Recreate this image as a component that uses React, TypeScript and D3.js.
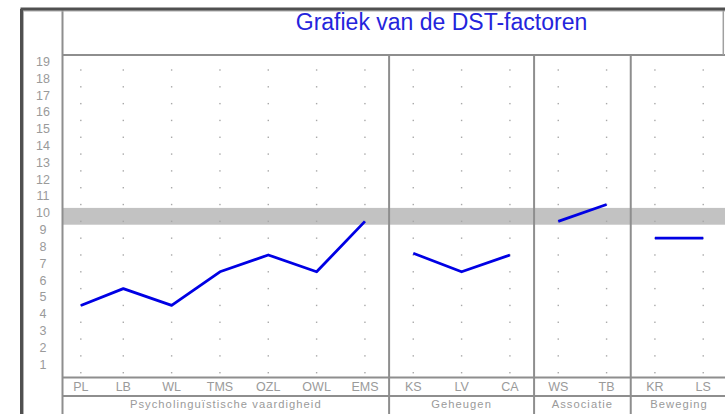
import * as d3 from 'd3'

// DST factor profile
const categories = ['PL', 'LB', 'WL', 'TMS', 'OZL', 'OWL', 'EMS', 'KS', 'LV', 'CA', 'WS', 'TB', 'KR', 'LS']
const groups = ['Psycholinguïstische vaardigheid', 'Geheugen', 'Associatie', 'Beweging']
const groupSizes = [7, 3, 2, 2]
const scores = [5, 6, 5, 7, 8, 7, 10, 8.1, 7, 8, 10, 11, 9, 9]
const yTicks = d3.range(1, 20)
const normBand = [9.8, 10.8]

const W = 725
const H = 414
const frameX = 21.5
const frameY = 9
const axisX = 62.5
const titleBottom = 55
const plotBottom = 377.5
const labelBottom = 396
const gridColor = '#8e8e8e'
const textColor = '#9a9a9a'
const font = '"Liberation Sans", Arial, sans-serif'

const x = d3.scaleBand<string>().domain(categories).range([50.8, 727.4])
const y = d3.scaleLinear().domain([1, 19]).range([372.7, 70])

// band clipped to the visible plot, then centred
const cx = (c: string) => {
  const a = Math.max(x(c)!, axisX)
  const b = Math.min(x(c)! + x.bandwidth(), W + 2.4)
  return (a + b) / 2
}

const groupRanges = groupSizes.map((n, i) => {
  const start = d3.sum(groupSizes.slice(0, i))
  return { name: groups[i], items: categories.slice(start, start + n), start }
})

const line = d3.line<number>()
  .x((_, i) => 0)
  .y(d => y(d))

const App = () => {
  const dividers = groupRanges.slice(1).map(g => x(g.items[0])!)

  return (
    <svg width={W} height={H} style={{ position: 'absolute', left: 0, top: 0, background: '#fff' }}>
      {/* norm band */}
      <rect x={axisX} width={W - axisX} y={y(normBand[1])} height={y(normBand[0]) - y(normBand[1])} fill="#c2c2c2" />

      {/* dot grid */}
      {categories.map(c => yTicks.map(t => (
        <rect key={c + t} x={cx(c) - 0.7} y={y(t) - 0.7} width={1.4} height={1.4} fill="#a8a8a8" />
      )))}

      {/* frame lines */}
      <line x1={axisX} x2={W} y1={titleBottom} y2={titleBottom} stroke={gridColor} strokeWidth={2} />
      <line x1={axisX} x2={W} y1={plotBottom} y2={plotBottom} stroke={gridColor} strokeWidth={2} />
      <line x1={axisX} x2={W} y1={labelBottom} y2={labelBottom} stroke={gridColor} strokeWidth={2} />
      <line x1={axisX} x2={axisX} y1={frameY} y2={H} stroke={gridColor} strokeWidth={2} />
      <line x1={723.3} x2={723.3} y1={frameY} y2={titleBottom} stroke="#a0a0a0" strokeWidth={1.5} />
      {dividers.map((d, i) => (
        <line key={i} x1={d} x2={d} y1={titleBottom} y2={H} stroke={gridColor} strokeWidth={2} />
      ))}
      <line x1={frameX + 1.5} x2={W} y1={frameY + 1.8} y2={frameY + 1.8} stroke="#aaa" strokeWidth={1.2} />
      <line x1={frameX + 1.8} x2={frameX + 1.8} y1={frameY + 1.5} y2={H} stroke="#aaa" strokeWidth={1.2} />
      <line x1={frameX - 1} x2={W} y1={frameY} y2={frameY} stroke="#505050" strokeWidth={3} />
      <line x1={frameX} x2={frameX} y1={frameY} y2={H} stroke="#505050" strokeWidth={3} />

      {/* title */}
      <text x={441.5} y={30} textAnchor="middle" fontFamily={font} fontSize={23} fill="#2424dc">
        Grafiek van de DST-factoren
      </text>

      {/* y labels */}
      {yTicks.map(t => (
        <text key={t} x={43} y={y(t + 0.5) + 4.3} textAnchor="middle" fontFamily={font} fontSize={12.5} fill={textColor}>
          {t}
        </text>
      ))}

      {/* category labels */}
      {categories.map(c => (
        <text key={c} x={cx(c)} y={391.3} textAnchor="middle" fontFamily={font} fontSize={12.5} fill={textColor}>
          {c}
        </text>
      ))}

      {/* group labels */}
      {groupRanges.map(g => {
        const a = Math.max(x(g.items[0])!, axisX)
        const b = x(g.items[g.items.length - 1])! + x.bandwidth()
        return (
          <text key={g.name} x={(a + Math.min(b, W + 2.4)) / 2} y={408.3} textAnchor="middle"
            fontFamily={font} fontSize={11.2} letterSpacing={1.05} fill={textColor}>
            {g.name}
          </text>
        )
      })}

      {/* profile lines, one per group */}
      {groupRanges.map(g => {
        const vals = scores.slice(g.start, g.start + g.items.length)
        const path = line.x((_, i) => cx(g.items[i]))(vals)
        return <path key={g.name} d={path ?? ''} fill="none" stroke="#0000e4" strokeWidth={2.8} strokeLinejoin="round" />
      })}
    </svg>
  )
}

export default App
